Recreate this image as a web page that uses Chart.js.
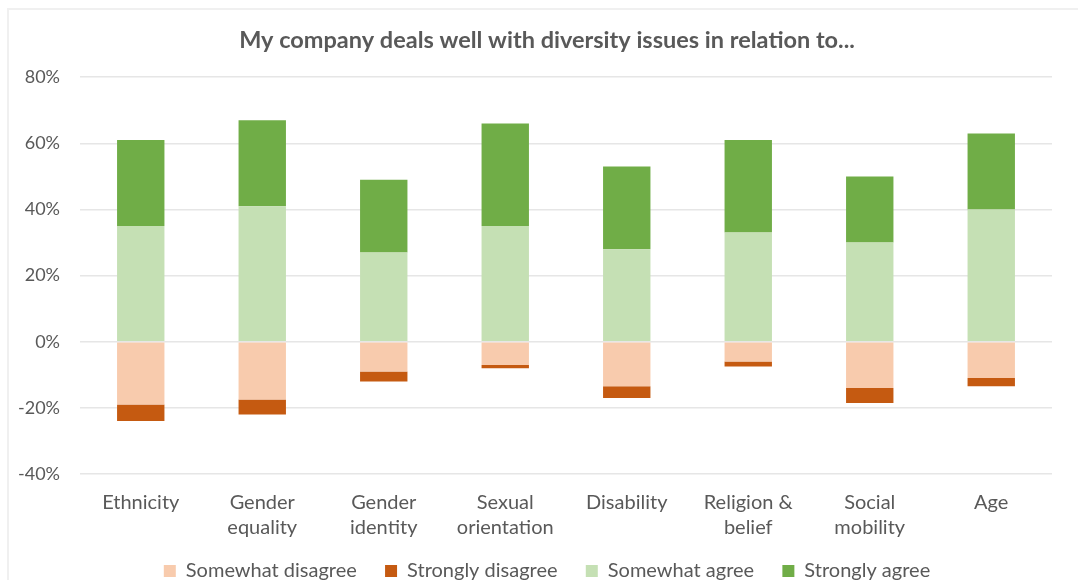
<!DOCTYPE html>
<html>
<head>
<meta charset="utf-8">
<script src="https://cdn.jsdelivr.net/npm/chart.js@4.4.1/dist/chart.umd.min.js"></script>
<style>
  html, body { margin: 0; padding: 0; background: #ffffff; }
  #wrap { position: relative; width: 1078px; height: 580px; overflow: hidden; }
  #frame { position: absolute; left: 7px; top: 8px; width: 1100px; height: 600px;
           border-left: 2px solid #f0f0f0; border-top: 2px solid #f0f0f0; box-sizing: border-box; }
  canvas { position: absolute; left: 0; top: 0; }
</style>
</head>
<body>
<div id="wrap">
  <div id="frame"></div>
  <canvas id="chart" width="1078" height="580"></canvas>
</div>
<script>
// Survey response shares (percent) per diversity topic
const categories = [
  ['Ethnicity'], ['Gender', 'equality'], ['Gender', 'identity'], ['Sexual', 'orientation'],
  ['Disability'], ['Religion &', 'belief'], ['Social', 'mobility'], ['Age']
];
const somewhatDisagree = [-19, -17.5, -9, -7, -13.5, -6, -14, -11];
const stronglyDisagree = [-5, -4.5, -3, -1, -3.5, -1.5, -4.5, -2.5];
const somewhatAgree    = [35, 41, 27, 35, 28, 33, 30, 40];
const stronglyAgree    = [26, 26, 22, 31, 25, 28, 20, 23];
const yTicks = [-40, -20, 0, 20, 40, 60, 80];

const FONT = 'Lato, "Open Sans", sans-serif';
const TEXT = '#595959';

const ctx = document.getElementById('chart').getContext('2d');
new Chart(ctx, {
  type: 'bar',
  data: {
    labels: categories,
    datasets: [
      { label: 'Somewhat disagree', data: somewhatDisagree, backgroundColor: '#F8CBAD' },
      { label: 'Strongly disagree', data: stronglyDisagree, backgroundColor: '#C55A11' },
      { label: 'Somewhat agree',    data: somewhatAgree,    backgroundColor: '#C5E0B4' },
      { label: 'Strongly agree',    data: stronglyAgree,    backgroundColor: '#70AD47' }
    ]
  },
  options: {
    responsive: false,
    animation: false,
    datasets: { bar: { barPercentage: 0.39, categoryPercentage: 1.0 } },
    layout: { padding: { left: 16, right: 0, top: 26, bottom: 0 } },
    plugins: {
      title: {
        display: true,
        text: 'My company deals well with diversity issues in relation to...',
        color: TEXT,
        font: { family: FONT, size: 23.5, weight: 'bold', lineHeight: 1.2 },
        padding: { top: 0, bottom: 23 }
      },
      legend: {
        position: 'bottom',
        maxHeight: 36,
        labels: {
          color: TEXT,
          font: { family: FONT, size: 20 },
          boxWidth: 12, boxHeight: 12,
          padding: 17,
          // widen the gap between legend entries
          generateLabels: (chart) =>
            Chart.defaults.plugins.legend.labels.generateLabels(chart)
              .map((l, i, all) => Object.assign(l, { text: i < all.length - 1 ? l.text + '\u2002\u200A' : l.text }))
        }
      },
      tooltip: { enabled: false }
    },
    scales: {
      x: {
        stacked: true,
        grid: { display: false },
        border: { display: false },
        ticks: { color: TEXT, font: { family: FONT, size: 20, lineHeight: 1.25 }, padding: 8, maxRotation: 0 },
        afterFit: (s) => { s.height = 70; }
      },
      y: {
        stacked: true,
        min: -40, max: 80,
        afterBuildTicks: (s) => { s.ticks = yTicks.map(v => ({ value: v })); },
        grid: { color: '#e6e6e6', lineWidth: 1.5, drawTicks: false },
        border: { display: false },
        ticks: { color: TEXT, font: { family: FONT, size: 18 }, padding: 20,
                 callback: (v) => v + '%' },
        afterFit: (s) => { s.width = 64; }
      },
      yRight: {
        position: 'right',
        min: -40, max: 80,
        grid: { display: false },
        border: { display: false },
        ticks: { display: false },
        afterFit: (s) => { s.width = 26; }
      }
    }
  }
});
</script>
</body>
</html>
